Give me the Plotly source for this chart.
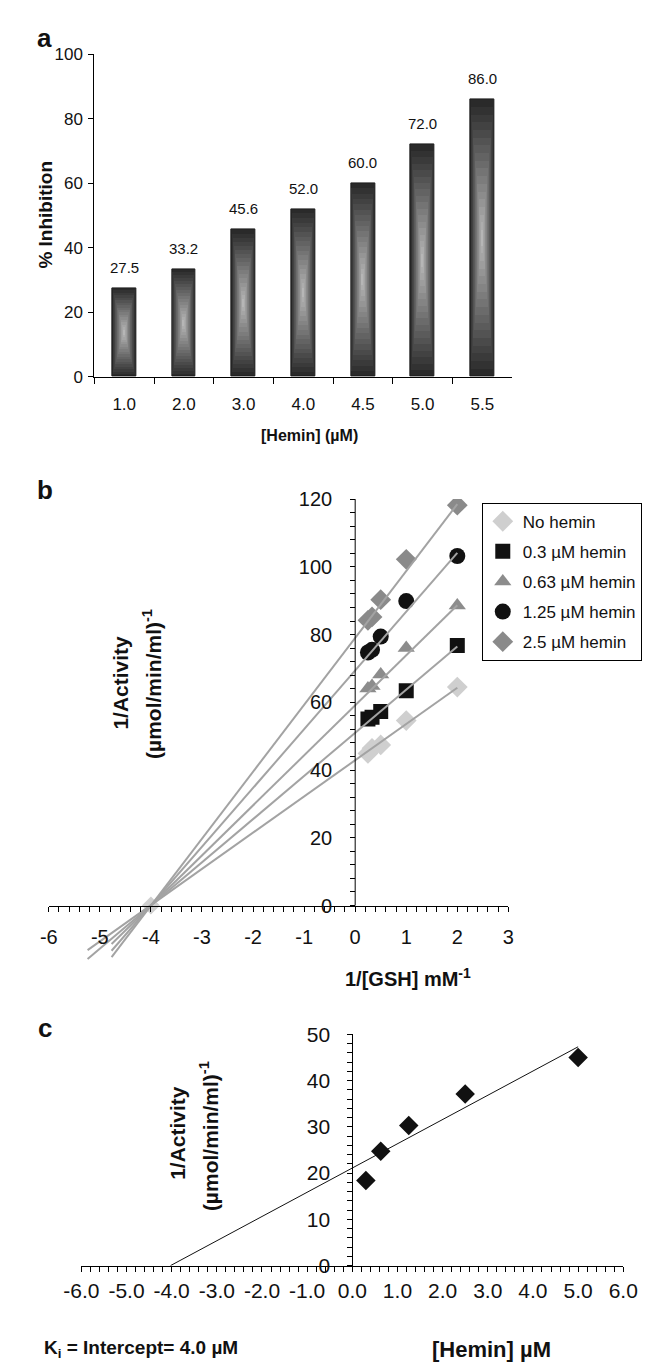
import numpy as np
import plotly.graph_objects as go

W, H = 654, 1364

# ---------------- data ----------------
# panel a
hemin_conc = ["1.0", "2.0", "3.0", "4.0", "4.5", "5.0", "5.5"]
inhibition = [27.5, 33.2, 45.6, 52.0, 60.0, 72.0, 86.0]
inhibition_labels = ["27.5", "33.2", "45.6", "52.0", "60.0", "72.0", "86.0"]

# panel b
inv_gsh = [0.25, 0.33, 0.5, 1.0, 2.0]
series_names = ["No hemin", "0.3 µM hemin", "0.63 µM hemin", "1.25 µM hemin", "2.5 µM hemin"]
inv_act_nohemin = [44.9, 46.4, 47.4, 54.6, 64.5]
inv_act_03 = [55.1, 55.6, 57.3, 63.4, 76.8]
inv_act_063 = [64.1, 64.8, 68.2, 76.0, 88.6]
inv_act_125 = [74.7, 75.5, 79.4, 89.9, 103.2]
inv_act_25 = [84.2, 85.2, 90.3, 102.2, 118.2]
common_x = [-4.0]
common_y = [0.0]
fit_slope = [10.7, 12.75, 14.77, 17.35, 19.75]
fit_intercept = [42.9, 51.0, 59.1, 69.4, 79.0]
fit_start = [-5.24, -5.24, -4.77, -4.77, -4.77]
fit_end = [2.0, 2.0, 2.0, 2.0, 2.0]
b_xticks = [-6, -5, -4, -3, -2, -1, 0, 1, 2, 3]
b_yticks = [0, 20, 40, 60, 80, 100, 120]

# panel c
hemin_c = [0.3, 0.63, 1.25, 2.5, 5.0]
inv_act_c = [18.4, 24.7, 30.3, 37.1, 45.0]
c_slope = 5.24
c_intercept = 21.1
c_end = 5.0
c_xticks = [-6, -5, -4, -3, -2, -1, 0, 1, 2, 3, 4, 5, 6]
c_yticks = [0, 10, 20, 30, 40, 50]

# ---------------- styling ----------------
NARROW = "Liberation Sans Narrow, Arial Narrow, Liberation Sans, Arial, sans-serif"
SANS = "Liberation Sans, Arial, sans-serif"

def pyf(px):
    return 1 - px / H

def pxf(px):
    return px / W

fig = go.Figure()

# ---------- panel a : gradient bars (concentric rectangles) ----------
N = 18
dark = np.array([42, 42, 42])
light = np.array([182, 182, 182])
bar_w = 0.4
for k in range(N):
    t = k / N
    f = k / (N - 1)
    col = dark + (light - dark) * f
    colstr = "rgb(%d,%d,%d)" % tuple(col.astype(int))
    fig.add_trace(go.Bar(
        x=hemin_conc,
        y=[v * (1 - t) for v in inhibition],
        base=[v * t / 2 for v in inhibition],
        width=bar_w * (1 - t),
        marker=dict(color=colstr,
                    line=dict(width=1 if k == 0 else 0, color="#1e1e1e")),
        xaxis="x", yaxis="y", showlegend=False, hoverinfo="skip"))

for i, (v, lab) in enumerate(zip(inhibition, inhibition_labels)):
    fig.add_annotation(x=i, y=v, xref="x", yref="y", text=lab, showarrow=False,
                       yshift=21, font=dict(family=NARROW, size=15, color="#111"))

# ---------- panel b ----------
b_series = [inv_act_nohemin, inv_act_03, inv_act_063, inv_act_125, inv_act_25]
b_symbols = ["diamond", "square", "triangle-up", "circle", "diamond"]
b_colors = ["#cfcfcf", "#111111", "#8c8c8c", "#111111", "#8a8a8a"]
b_sizes = [16, 15, 15, 16, 16]

# light diamond at the common intersection
fig.add_trace(go.Scatter(x=common_x, y=common_y, mode="markers",
                         marker=dict(symbol="diamond", size=14, color=b_colors[0]),
                         xaxis="x2", yaxis="y2", showlegend=False, hoverinfo="skip"))

for i, (name, ys) in enumerate(zip(series_names, b_series)):
    fig.add_trace(go.Scatter(
        x=inv_gsh, y=ys, mode="markers", name=name, legendgroup=name,
        marker=dict(symbol=b_symbols[i], size=b_sizes[i], color=b_colors[i],
                    line=dict(width=0)),
        xaxis="x2", yaxis="y2"))

for i in range(5):
    xs = [fit_start[i], fit_end[i]]
    ys = [fit_slope[i] * x + fit_intercept[i] for x in xs]
    fig.add_trace(go.Scatter(x=xs, y=ys, mode="lines",
                             line=dict(color="#a3a3a3", width=2),
                             xaxis="x2", yaxis="y2", showlegend=False, hoverinfo="skip"))

# ---------- panel c ----------
c_start = -c_intercept / c_slope
fig.add_trace(go.Scatter(x=[c_start, c_end],
                         y=[c_slope * c_start + c_intercept, c_slope * c_end + c_intercept],
                         mode="lines", line=dict(color="#111", width=1),
                         xaxis="x3", yaxis="y3", showlegend=False, hoverinfo="skip"))
fig.add_trace(go.Scatter(x=hemin_c, y=inv_act_c, mode="markers",
                         marker=dict(symbol="diamond", size=15, color="#111"),
                         xaxis="x3", yaxis="y3", showlegend=False, hoverinfo="skip"))

# ---------------- axes ----------------
# panel a
a_x = [pxf(72), pxf(512)]
a_y = [pyf(363), pyf(35)]
# panel b
b_x = [pxf(24), pxf(508)]
b_ymin, b_ymax = -17, 120
b_zero_px, b_top_px = 900.7, 487.3
b_unit = (b_zero_px - b_top_px) / b_ymax
b_y = [pyf(b_zero_px - b_ymin * b_unit), pyf(b_top_px)]
b_xaxis_pos = b_y[0] + (0 - b_ymin) / (b_ymax - b_ymin) * (b_y[1] - b_y[0])
b_yaxis_pos = b_x[0] + (0 - b_xticks[0]) / (b_xticks[-1] - b_xticks[0]) * (b_x[1] - b_x[0])
# panel c
c_x = [pxf(58.3), pxf(629)]
c_y = [pyf(1267), pyf(1031.7)]
c_yaxis_pos = c_x[0] + (0 - c_xticks[0]) / (c_xticks[-1] - c_xticks[0]) * (c_x[1] - c_x[0])

common_axis = dict(showgrid=False, zeroline=False, linecolor="black", linewidth=1,
                   tickcolor="black", tickwidth=1, ticks="outside")

fig.update_layout(
    width=W, height=H, margin=dict(l=0, r=0, t=0, b=0),
    paper_bgcolor="white", plot_bgcolor="white",
    barmode="overlay", bargap=0,
    showlegend=True,
    legend=dict(x=pxf(480), y=pyf(491), xanchor="left", yanchor="top",
                bordercolor="black", borderwidth=1, bgcolor="white",
                font=dict(family=SANS, size=17, color="#111"),
                tracegroupgap=5, itemwidth=30),
    xaxis=dict(domain=a_x, anchor="y", type="category", showline=True,
               tickson="boundaries", ticklen=6, ticklabelstandoff=12,
               tickfont=dict(family=NARROW, size=17, color="#111"), **common_axis),
    yaxis=dict(domain=a_y, anchor="x", range=[0, 100], tickvals=[0, 20, 40, 60, 80, 100],
               showline=True, ticklen=5, ticklabelstandoff=2,
               tickfont=dict(family=NARROW, size=17, color="#111"), **common_axis),
    xaxis2=dict(domain=b_x, anchor="free", position=b_xaxis_pos, range=[-6, 3],
                tickvals=b_xticks, ticktext=[str(v) for v in b_xticks],
                showline=True, ticklen=5, ticklabelstandoff=8,
                minor=dict(ticks="outside", dtick=0.2, tick0=0, ticklen=5,
                           tickcolor="black", showgrid=False),
                tickfont=dict(family=SANS, size=20, color="#111"), **common_axis),
    yaxis2=dict(domain=b_y, anchor="free", position=b_yaxis_pos, range=[b_ymin, b_ymax],
                tickvals=b_yticks, ticktext=[str(v) for v in b_yticks],
                showline=False, ticklen=5, ticklabelstandoff=14,
                minor=dict(ticks="outside", tickvals=[v for v in range(4, 120, 4) if v % 20],
                           ticklen=5, tickcolor="black", showgrid=False),
                tickfont=dict(family=SANS, size=20, color="#111"), **common_axis),
    xaxis3=dict(domain=c_x, anchor="y3", range=[-6, 6],
                tickvals=c_xticks, ticktext=["%.1f" % v for v in c_xticks],
                showline=True, ticklen=5, ticklabelstandoff=1,
                minor=dict(ticks="outside", dtick=0.2, tick0=0, ticklen=5,
                           tickcolor="black", showgrid=False),
                tickfont=dict(family=SANS, size=21, color="#111"), **common_axis),
    yaxis3=dict(domain=c_y, anchor="free", position=c_yaxis_pos, range=[0, 50],
                tickvals=c_yticks, showline=True, ticklen=5, ticklabelstandoff=13,
                minor=dict(ticks="outside", dtick=2, ticklen=5, tickcolor="black", showgrid=False),
                tickfont=dict(family=SANS, size=21, color="#111"), **common_axis),
)

# y-axis line of panel b (only from 0 upwards)
fig.add_shape(type="line", xref="x2", yref="y2", x0=0, x1=0, y0=0, y1=b_yticks[-1],
              line=dict(color="black", width=1))

# ---------------- texts ----------------
def ann(text, x, y, size, family=SANS, bold=True, angle=0, xanchor="center"):
    fig.add_annotation(text=text, x=pxf(x), y=pyf(y), xref="paper", yref="paper",
                       showarrow=False, textangle=angle, xanchor=xanchor, yanchor="middle",
                       font=dict(family=family, size=size, color="#111",
                                 weight="bold" if bold else "normal"))

ann("a", 20, 18, 26)
ann("b", 20, 478, 26)
ann("c", 20, 1025, 26)

ann("% Inhibition", 21, 198, 19, angle=-90)
ann("[Hemin] (µM)", 299, 423, 16, family=NARROW)

ann("1/Activity", 100, 674, 21, angle=-90)
ann("(µmol/min/ml)<sup>-1</sup>", 132, 675, 21, angle=-90)
ann("1/[GSH] mM<sup>-1</sup>", 402, 974, 20)

ann("1/Activity", 160, 1132, 21, angle=-90)
ann("(µmol/min/ml)<sup>-1</sup>", 193, 1135, 21, angle=-90)
ann("[Hemin] µM", 490, 1352, 22)
ann("K<sub>i</sub> = Intercept= 4.0 µM", 17, 1352, 19, xanchor="left")

fig.write_html("out.html")
